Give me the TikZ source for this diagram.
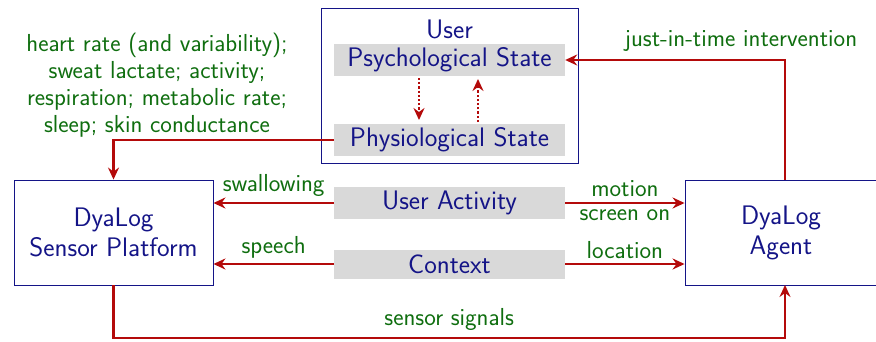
\documentclass[tikz,border=0pt]{standalone}
\usepackage{fontspec}
\usetikzlibrary{arrows.meta}
\definecolor{boxblue}{RGB}{20,20,135}
\definecolor{arrred}{RGB}{180,10,10}
\definecolor{lblgreen}{RGB}{15,110,15}
\definecolor{statefill}{RGB}{217,217,217}
\begin{document}
\begin{tikzpicture}[x=1pt,y=-1pt,
  font=\sffamily,
  mainfont/.style={font=\sffamily\fontsize{26.8}{30}\selectfont},
  lblfont/.style={font=\sffamily\fontsize{24.6}{27}\selectfont},
  bigbox/.style={draw=boxblue, line width=0.9pt, text=boxblue, mainfont, inner sep=0pt, align=center},
  statebox/.style={fill=statefill, text=boxblue, mainfont, inner sep=0pt, minimum width=231pt},
  flow/.style={draw=arrred, line width=2.2pt, -{Stealth[length=12pt,width=11pt,inset=4pt]}},
  dotflow/.style={draw=arrred, line width=2.2pt, dotted, -{Stealth[length=12pt,width=11pt,inset=4pt]}},
  lbl/.style={text=lblgreen, lblfont, inner sep=0pt}]
\useasboundingbox (0,0) rectangle (876,341);

% User box with its two states
\node[bigbox, minimum width=257pt, minimum height=155pt] (user) at (449.5,85.5) {};
\node[text=boxblue, mainfont, inner sep=0pt] (usertitle) at (449.5,29) {User};
\node[statebox, minimum height=32pt] (psy) at (449.5,60) {Psychological State};
\node[statebox, minimum height=32pt] (phys) at (449.5,140) {Physiological State};

% Activity and context
\node[statebox, minimum height=32pt] (act) at (449.5,203) {User Activity};
\node[statebox, minimum height=29pt] (ctx) at (449.5,264) {Context};

% Platform and agent
\node[bigbox, minimum width=199pt, minimum height=105pt] (sensor) at (113.5,232.5) {DyaLog\\Sensor Platform};
\node[bigbox, minimum width=192pt, minimum height=105pt] (agent) at (781,232.5) {DyaLog\\Agent};

% Sensed quantities
\node[lbl, align=center] (signals) at (157,85) {heart rate (and variability);\\sweat lactate; activity;\\respiration; metabolic rate;\\sleep; skin conductance};

% Interplay of the two states
\draw[dotflow] (419,78) -- (419,120);
\draw[dotflow] (478,122) -- (478,79);

% Connectors
\draw[flow] (phys.west) -| (sensor.north);
\draw[flow] (act.west) -- node[lbl, above=5pt] {swallowing} (sensor.east |- act.west);
\draw[flow] (ctx.west) -- node[lbl, above=5pt] {speech} (sensor.east |- ctx.west);
\draw[flow] (act.east) -- node[lbl, above=5.5pt] {motion} node[lbl, below=5.5pt] {screen on} (agent.west |- act.east);
\draw[flow] (ctx.east) -- node[lbl, above=4pt] {location} (agent.west |- ctx.east);
\coordinate (bl) at (113.5,338);
\draw[flow] (sensor.south) -- (bl) -- node[lbl, above=6pt] {sensor signals} (bl -| 785,0) -- (785,285);
\coordinate (tr) at (785,60);
\draw[flow] (785,180) -- (tr) -- node[lbl, above=7pt, pos=0.2] {just-in-time intervention} (psy.east);
\end{tikzpicture}
\end{document}
